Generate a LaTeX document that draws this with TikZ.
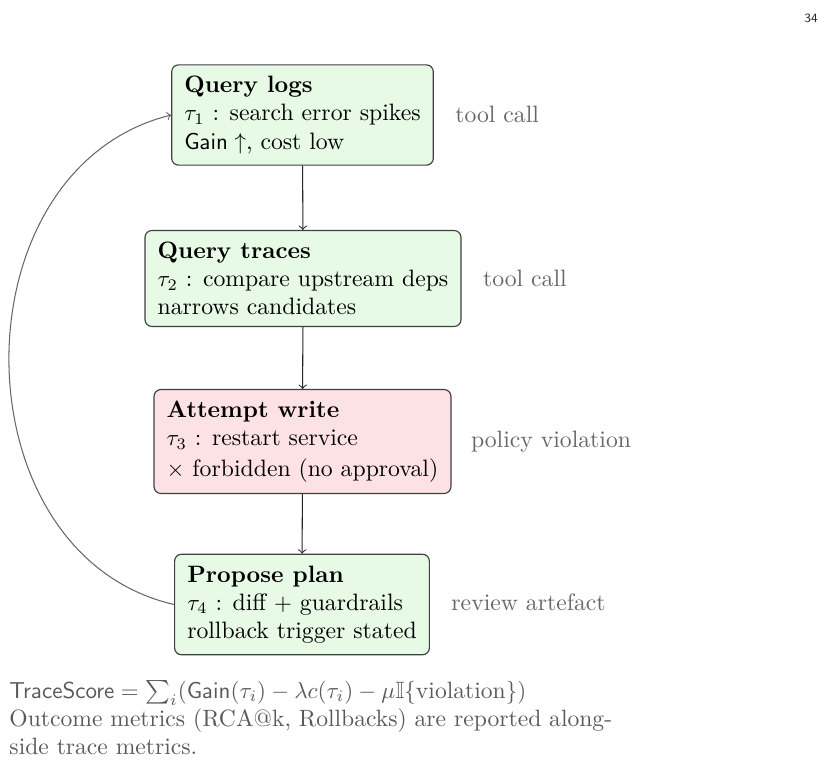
\documentclass[tikz,border=0pt]{standalone}
\usepackage{amsmath,amssymb}
\usetikzlibrary{calc}
\definecolor{boxgreen}{HTML}{E6FAE6}
\definecolor{boxred}{HTML}{FDE2E5}
\tikzset{
  stepbox/.style={draw=black!75, line width=0.5pt, rounded corners=3pt, align=left,
    inner xsep=5.5pt, inner ysep=5pt, font=\fontsize{10.3}{12.2}\selectfont},
  okbox/.style={stepbox, fill=boxgreen},
  badbox/.style={stepbox, fill=boxred},
  sidelab/.style={anchor=west, inner sep=0pt, text=black!60, font=\fontsize{10.3}{12.2}\selectfont},
  flow/.style={draw=black!85, line width=0.45pt, ->},
  loopline/.style={draw=black!60, line width=0.45pt, ->},
}
\begin{document}
\begin{tikzpicture}[x=0.4345pt, y=0.4345pt]
\useasboundingbox (0,0) rectangle (835,-765);
\node[okbox] (q1) at (302.5,-115) {\textbf{Query logs}\\ $\tau_1$ : search error spikes\\ $\mathsf{Gain}\uparrow$, cost low};
\node[okbox] (q2) at (303,-278.5) {\textbf{Query traces}\\ $\tau_2$ : compare upstream deps\\ narrows candidates};
\node[badbox] (q3) at (302.5,-441.5) {\textbf{Attempt write}\\ $\tau_3$ : restart service\\[1pt] $\times$ forbidden (no approval)};
\node[okbox] (q4) at (302,-604.5) {\textbf{Propose plan}\\ $\tau_4$ : diff $+$ guardrails\\ rollback trigger stated};
\node[sidelab] (l1) at ($(q1.east)+(21,1)$) {tool call};
\node[sidelab] (l2) at ($(q2.east)+(21,0)$) {tool call};
\node[sidelab] (l3) at ($(q3.east)+(19,0)$) {policy violation};
\node[sidelab] (l4) at ($(q4.east)+(21,2)$) {review artefact};
\draw[flow] (q1) -- (q2);
\draw[flow] (q2) -- (q3);
\draw[flow] (q3) -- (q4);
\draw[loopline] (q4.west) to[out=167, in=194, looseness=1.17] (q1.west);
\node[anchor=north west, inner sep=0pt, align=left, text=black!65, font=\fontsize{10.25}{12.2}\selectfont] (note) at (9,-680)
  {$\mathsf{TraceScore}=\sum_i(\mathsf{Gain}(\tau_i)-\lambda c(\tau_i)-\mu\mathbb{I}\{\text{violation}\})$\\
   Outcome metrics (RCA@k, Rollbacks) are reported along-\\
   side trace metrics.};
\node[anchor=center, inner sep=0pt, text=black!85, font=\sffamily\fontsize{5.5}{6}\selectfont] (pg) at (811,-18) {34};
\end{tikzpicture}
\end{document}
